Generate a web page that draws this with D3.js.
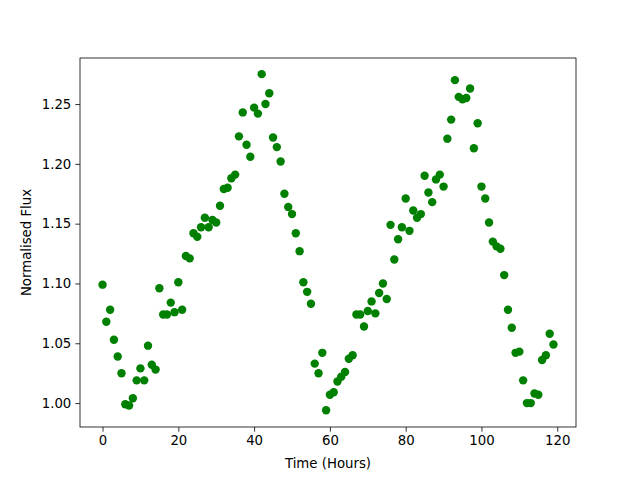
<!DOCTYPE html>
<html>
<head>
<meta charset="utf-8">
<script src="https://cdn.jsdelivr.net/npm/d3@7"></script>
<style>
  body { margin: 0; background: #fff; }
  text { font-family: "DejaVu Sans", sans-serif; }
</style>
</head>
<body>
<svg id="chart" width="640" height="480"></svg>
<script>
// hours 0..119
const hours = d3.range(0, 120);
const flux = [
  1.099, 1.068, 1.078, 1.053, 1.039, 1.025, 0.999, 0.998, 1.004, 1.019,
  1.029, 1.019, 1.048, 1.032, 1.028, 1.096, 1.074, 1.074, 1.084, 1.076,
  1.101, 1.078, 1.123, 1.121, 1.142, 1.139, 1.147, 1.155, 1.147, 1.153,
  1.151, 1.165, 1.179, 1.180, 1.188, 1.191, 1.223, 1.243, 1.216, 1.206,
  1.247, 1.242, 1.275, 1.250, 1.259, 1.222, 1.214, 1.202, 1.175, 1.164,
  1.158, 1.142, 1.127, 1.101, 1.093, 1.083, 1.033, 1.025, 1.042, 0.994,
  1.007, 1.009, 1.018, 1.022, 1.026, 1.037, 1.040, 1.074, 1.074, 1.064,
  1.077, 1.085, 1.075, 1.092, 1.100, 1.087, 1.149, 1.120, 1.137, 1.147,
  1.171, 1.144, 1.161, 1.155, 1.158, 1.190, 1.176, 1.168, 1.187, 1.191,
  1.181, 1.221, 1.237, 1.270, 1.256, 1.254, 1.255, 1.263, 1.213, 1.234,
  1.181, 1.171, 1.151, 1.135, 1.131, 1.129, 1.107, 1.078, 1.063, 1.042,
  1.043, 1.019, 1.000, 1.000, 1.008, 1.007, 1.036, 1.040, 1.058, 1.049
];
const xTicks = [0, 20, 40, 60, 80, 100, 120];
const yTicks = [1.00, 1.05, 1.10, 1.15, 1.20, 1.25];

const svg = d3.select('#chart');
const m = { left: 80, right: 576, top: 58, bottom: 427 };

const x = d3.scaleLinear().domain([-5.95, 124.95]).range([m.left, m.right]);
const y = d3.scaleLinear().domain([0.980, 1.2885]).range([m.bottom, m.top]);

svg.append('g')
    .selectAll('circle')
    .data(hours)
    .enter().append('circle')
    .attr('cx', d => x(d))
    .attr('cy', (d, i) => y(flux[i]))
    .attr('r', 4.2)
    .attr('fill', '#008000');

// frame
svg.append('rect')
    .attr('x', m.left).attr('y', m.top)
    .attr('width', m.right - m.left).attr('height', m.bottom - m.top)
    .attr('fill', 'none').attr('stroke', '#000').attr('stroke-width', 0.8);

const xAxis = svg.append('g')
    .attr('transform', `translate(0,${m.bottom})`)
    .call(d3.axisBottom(x).tickValues(xTicks).tickSize(4.7).tickPadding(4).tickFormat(d3.format('d')));
const yAxis = svg.append('g')
    .attr('transform', `translate(${m.left},0)`)
    .call(d3.axisLeft(y).tickValues(yTicks).tickSize(4.7).tickPadding(4).tickFormat(d3.format('.2f')));

[xAxis, yAxis].forEach(g => {
  g.select('.domain').remove();
  g.selectAll('.tick line').attr('stroke', '#000').attr('stroke-width', 0.8);
  g.selectAll('.tick text').attr('font-size', '13.3px').attr('fill', '#000')
    .style('font-family', '"DejaVu Sans", sans-serif');
});

svg.append('text')
    .attr('x', (m.left + m.right) / 2).attr('y', 468)
    .attr('text-anchor', 'middle')
    .attr('font-size', '13.3px')
    .text('Time (Hours)');

svg.append('text')
    .attr('transform', `translate(31,${(m.top + m.bottom) / 2}) rotate(-90)`)
    .attr('text-anchor', 'middle')
    .attr('font-size', '13.3px')
    .text('Normalised Flux');
</script>
</body>
</html>
